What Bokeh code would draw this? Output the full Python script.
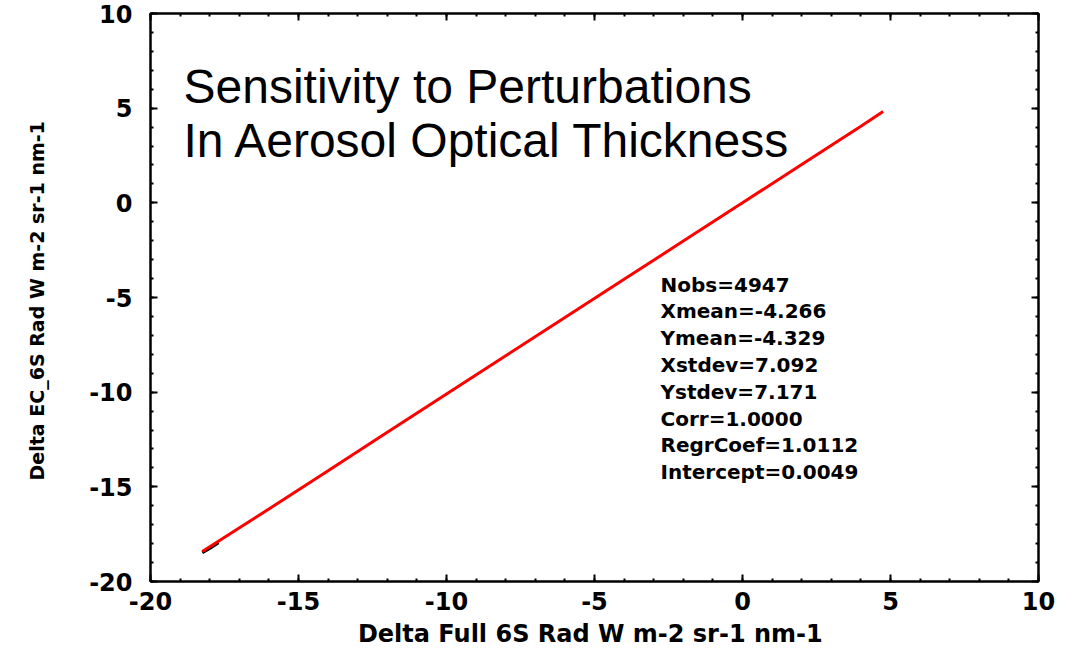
from bokeh.plotting import figure
from bokeh.models import Range1d, LinearAxis, SingleIntervalTicker, Label, CustomJSTickFormatter
from bokeh.embed import file_html
from bokeh.resources import INLINE

# Data
x_vals = [-18.25, -16.0, -14.0, -12.0, -10.0, -8.0, -6.0, -4.0, -2.0, 0.0, 2.0, 4.0, 4.75]
y_vals = [-18.42, -16.17, -14.15, -12.12, -10.10, -8.08, -6.06, -4.04, -2.02, 0.0, 2.03, 4.05, 4.82]
x_black = [-18.25, -18.0, -17.7]
y_black = [-18.48, -18.25, -17.95]

title_lines = ["Sensitivity to Perturbations", "In Aerosol Optical Thickness"]
stats_lines = ["Nobs=4947", "Xmean=-4.266", "Ymean=-4.329", "Xstdev=7.092",
               "Ystdev=7.171", "Corr=1.0000", "RegrCoef=1.0112", "Intercept=0.0049"]

x_label = "Delta Full 6S Rad  W m-2 sr-1 nm-1"
y_label = "Delta EC_6S Rad  W m-2 sr-1 nm-1"

TICK_FONT = "DejaVu Sans"

p = figure(width=1077, height=650, output_backend="svg", toolbar_location=None,
           x_range=Range1d(-20, 10), y_range=Range1d(-20, 10),
           x_axis_location=None, y_axis_location=None,
           min_border_left=150, min_border_right=39, min_border_top=13, min_border_bottom=67)
p.xgrid.visible = False
p.ygrid.visible = False
p.outline_line_color = "black"
p.outline_line_width = 2
p.background_fill_color = "white"
p.border_fill_color = "white"


def make_axis(labels=True, label_text=None, label_size="22px"):
    ax = LinearAxis(ticker=SingleIntervalTicker(interval=5, num_minor_ticks=5))
    ax.formatter = CustomJSTickFormatter(code="return tick.toString();")
    ax.axis_line_color = "black"
    ax.axis_line_width = 2
    ax.major_tick_in = 7
    ax.major_tick_out = 0
    ax.minor_tick_in = 3
    ax.minor_tick_out = 0
    ax.major_tick_line_width = 2
    ax.minor_tick_line_width = 2
    ax.major_tick_line_color = "black"
    ax.minor_tick_line_color = "black"
    if labels:
        ax.major_label_text_font = TICK_FONT
        ax.major_label_text_font_style = "bold"
        ax.major_label_text_font_size = "24px"
        ax.major_label_text_color = "black"
    else:
        ax.major_label_text_alpha = 0
        ax.major_label_text_font_size = "1px"
        ax.major_label_standoff = 0
    if label_text:
        ax.axis_label = label_text
        ax.axis_label_text_font = TICK_FONT
        ax.axis_label_text_font_style = "bold"
        ax.axis_label_text_font_size = label_size
        ax.axis_label_text_color = "black"
    return ax


bottom = make_axis(True, x_label, "24px")
bottom.major_label_standoff = 10
bottom.axis_label_standoff = 7
left = make_axis(True, y_label, "19px")
left.major_label_standoff = 18
left.axis_label_standoff = 38
top = make_axis(False)
right = make_axis(False)

p.add_layout(bottom, "below")
p.add_layout(left, "left")
p.add_layout(top, "above")
p.add_layout(right, "right")

# data
p.line(x_black, y_black, line_color="black", line_width=3)
p.line(x_vals, y_vals, line_color="#ff0000", line_width=3)

# title text inside the plot
title_y = [6.12, 3.28]
for t, ty in zip(title_lines, title_y):
    p.add_layout(Label(x=-18.885, y=ty, text=t, text_font="Liberation Sans",
                       text_font_size="48px", text_color="black",
                       text_baseline="alphabetic", text_align="left"))

# statistics block
for i, s in enumerate(stats_lines):
    p.add_layout(Label(x=-2.77, y=-4.32 - i * 1.416, text=s, text_font=TICK_FONT,
                       text_font_style="bold", text_font_size="20px", text_color="black",
                       text_baseline="middle", text_align="left"))

open("out.html", "w").write(file_html(p, INLINE))
